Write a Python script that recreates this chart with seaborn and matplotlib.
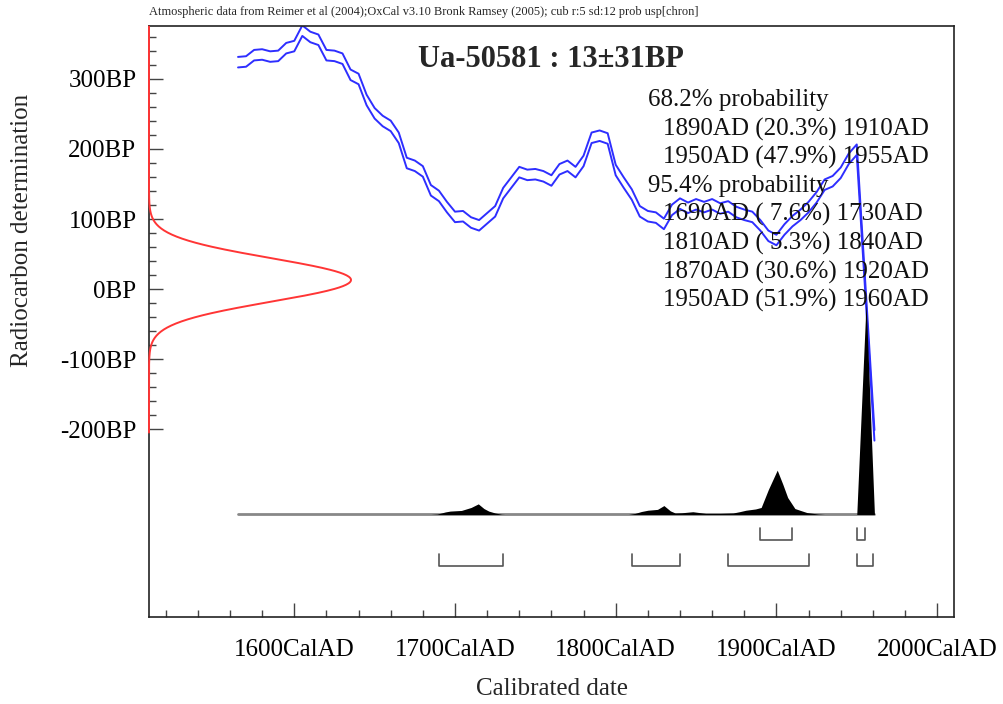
import numpy as np
import pandas as pd
import matplotlib
matplotlib.use('Agg')
import matplotlib.pyplot as plt
from matplotlib.ticker import FixedLocator
import seaborn as sns

# Datos de la muestra
sample_name = 'Ua-50581'
c14_age = 13
c14_err = 31

# Curva de calibracion (anio calendario, edad BP)
curve_years = [1565, 1570, 1575, 1580, 1585, 1590, 1595, 1600, 1605, 1610,
               1615, 1620, 1625, 1630, 1635, 1640, 1645, 1650, 1655, 1660,
               1665, 1670, 1675, 1680, 1685, 1690, 1695, 1700, 1705, 1710,
               1715, 1720, 1725, 1730, 1735, 1740, 1745, 1750, 1755, 1760,
               1765, 1770, 1775, 1780, 1785, 1790, 1795, 1800, 1805, 1810,
               1815, 1820, 1825, 1830, 1835, 1840, 1845, 1850, 1855, 1860,
               1865, 1870, 1875, 1880, 1885, 1890, 1895, 1900, 1905, 1910,
               1915, 1920, 1925, 1930, 1935, 1940, 1945, 1950, 1955, 1961]
curve_bp = [324, 325, 334, 335, 332, 333, 344, 347, 369, 360,
            356, 334, 333, 329, 306, 300, 270, 251, 240, 233,
            216, 180, 176, 168, 141, 133, 117, 103, 104, 95,
            91, 101, 111, 137, 152, 167, 163, 164, 161, 155,
            171, 176, 167, 183, 216, 219, 215, 170, 152, 135,
            111, 104, 102, 93, 113, 122, 116, 121, 117, 121,
            115, 118, 110, 106, 103, 91, 76, 70, 85, 97,
            106, 117, 131, 149, 154, 166, 186, 199, 13, -209]
curve_sigma = 7.5

# Distribucion calibrada (relativa al maximo)
prob_years = [1565, 1685, 1689, 1694, 1697, 1704, 1710, 1714.5, 1718, 1721,
              1725, 1729, 1731, 1808, 1812, 1816, 1820, 1826, 1830, 1834,
              1837, 1841, 1848, 1852, 1856, 1865, 1873, 1877, 1881, 1887,
              1890.5, 1895, 1900.5, 1904, 1907, 1911.5, 1915, 1919, 1926, 1930,
              1950, 1955.8, 1961]
prob_vals = [0, 0, 0.002, 0.012, 0.016, 0.019, 0.033, 0.050, 0.028, 0.016,
             0.007, 0.001, 0, 0, 0.005, 0.014, 0.020, 0.024, 0.042, 0.017,
             0.007, 0.008, 0.013, 0.009, 0.005, 0.005, 0.007, 0.013, 0.020, 0.026,
             0.033, 0.118, 0.209, 0.142, 0.080, 0.028, 0.019, 0.009, 0.002, 0,
             0, 1.0, 0]

# Rangos
ranges_68 = [(1890, 1910), (1950, 1955)]
ranges_95 = [(1690, 1730), (1810, 1840), (1870, 1920), (1950, 1960)]
pct_68 = [20.3, 47.9]
pct_95 = [7.6, 5.3, 30.6, 51.9]

header = ('Atmospheric data from Reimer et al (2004);OxCal v3.10 Bronk Ramsey (2005); '
          'cub r:5 sd:12 prob usp[chron]')

sns.set_theme(style='white')
plt.rcParams['font.family'] = ['Liberation Serif', 'DejaVu Serif']

fig = plt.figure(figsize=(10.04, 7.04), dpi=100)
ax = fig.add_axes([0.1484, 0.124, 0.8018, 0.8384])
ax.set_xlim(1509.6, 2010.5)
ax.set_ylim(-468, 375)

# Curva de calibracion
df = pd.DataFrame({'year': curve_years, 'bp': curve_bp})
df['upper'] = df['bp'] + curve_sigma
df['lower'] = df['bp'] - curve_sigma
for col in ['upper', 'lower']:
    sns.lineplot(data=df, x='year', y=col, ax=ax, color='#2e2eff', lw=1.4,
                 sort=False, estimator=None)

# Medida radiocarbono (gaussiana en el eje)
bp_grid = np.linspace(-205, 375, 600)
gauss = np.exp(-0.5 * ((bp_grid - c14_age) / c14_err) ** 2)
ax.plot(1509.6 + 125.7 * gauss, bp_grid, color='#ff3535', lw=1.4, clip_on=False, zorder=5)

# Distribucion calibrada
base = -322
pscale = 303
py = base + pscale * np.array(prob_vals)
ax.fill_between(prob_years, base, py, color='black', lw=0, zorder=3)
ax.plot([prob_years[0], prob_years[-1]], [base, base], color='#888888', lw=2, zorder=2)

# Corchetes de rangos
def draw_brackets(ranges, top, bottom):
    for x0, x1 in ranges:
        ax.plot([x0, x0, x1, x1], [top, bottom, bottom, top], color='#555555', lw=1.2)

draw_brackets(ranges_68, -341, -359)
draw_brackets(ranges_95, -378, -395)

# Ejes y ticks
ax.yaxis.set_major_locator(FixedLocator(np.arange(-200, 301, 100)))
ax.yaxis.set_minor_locator(FixedLocator(np.arange(-200, 361, 20)))
ax.xaxis.set_major_locator(FixedLocator(np.arange(1600, 2001, 100)))
ax.xaxis.set_minor_locator(FixedLocator(np.arange(1520, 2001, 20)))
ax.set_yticklabels([f'{v}BP' for v in range(-200, 301, 100)])
ax.set_xticklabels([f'{v}CalAD' for v in range(1600, 2001, 100)])
ax.tick_params(which='both', direction='in', left=True, bottom=True, color='#444444', width=1)
ax.tick_params(which='major', length=10, labelsize=18, labelcolor='black')
ax.tick_params(which='minor', length=5)
ax.tick_params(axis='y', which='major', pad=9)
ax.tick_params(axis='x', which='major', pad=16)
for s in ax.spines.values():
    s.set_color('#222222')
    s.set_linewidth(1.2)
ax.set_xlabel('')
ax.set_ylabel('')

ax.text(-0.158, 0.655, 'Radiocarbon determination', transform=ax.transAxes,
        rotation=90, ha='center', va='center', fontsize=18)
ax.text(0.5006, -0.123, 'Calibrated date', transform=ax.transAxes,
        ha='center', va='center', fontsize=18)
fig.text(149 / 1004, 1 - 12 / 704, header, ha='left', va='center', fontsize=8.9)

ax.text(0.334, 0.944, f'{sample_name} : {c14_age}\u00b1{c14_err}BP', transform=ax.transAxes,
        ha='left', va='center', fontsize=22, fontweight='bold')

lines = [('68.2% probability', False)]
for (a, b), p in zip(ranges_68, pct_68):
    lines.append((f'{a}AD ({p:4.1f}%) {b}AD', True))
lines.append(('95.4% probability', False))
for (a, b), p in zip(ranges_95, pct_95):
    lines.append((f'{a}AD ({p:4.1f}%) {b}AD', True))
for i, (txt, indent) in enumerate(lines):
    x_px = 663 if indent else 648
    y_px = 100.5 + i * 28.6
    ax.text((x_px - 149) / 805, (616.7 - y_px) / 590.2, txt, transform=ax.transAxes,
            ha='left', va='center', fontsize=18, color='#111111')

fig.savefig('out.png', dpi=100)
